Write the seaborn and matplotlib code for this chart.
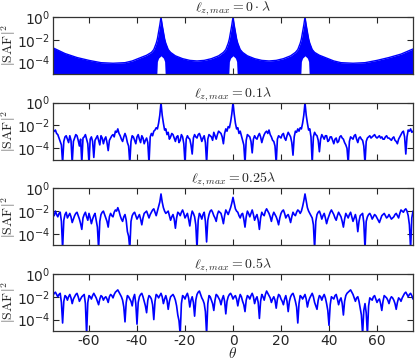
import numpy as np
import pandas as pd
import matplotlib
matplotlib.use('Agg')
import matplotlib.pyplot as plt
import seaborn as sns

# --- data (log10 of |SAF|^2) ---
titles = [r'$\ell_{z,max}=0\cdot\lambda$', r'$\ell_{z,max}=0.1\lambda$',
          r'$\ell_{z,max}=0.25\lambda$', r'$\ell_{z,max}=0.5\lambda$']

# panel 1: dense array factor, drawn as upper envelope / lower edge of the blue band
theta_p1 = [-75, -70, -65, -60, -55, -50, -45, -42, -39, -36, -34, -33, -32, -31.8, -31.5, -31, -30.5,
            -30, -29.5, -29, -28.5, -28.2, -28, -27, -26, -24, -21, -18, -15, -12, -9, -6, -4, -3, -2,
            -1.8, -1.5, -1, -0.5, 0, 0.5, 1, 1.5, 1.8, 2, 3, 4, 6, 9, 12, 15, 18, 21, 24, 26, 27, 28,
            28.2, 28.5, 29, 29.5, 30, 30.5, 31, 31.5, 31.8, 32, 33, 34, 36, 39, 42, 45, 50, 55, 60, 65,
            70, 75]
env_p1 = [-2.7, -3.2, -3.55, -3.8, -4.0, -4.05, -4.0, -3.85, -3.6, -3.35, -3.1, -2.85, -2.3, -2.15, -1.9, -1.3, -0.7,
          0.0, -0.7, -1.3, -1.9, -2.15, -2.3, -2.85, -3.1, -3.4, -3.65, -3.8, -3.85, -3.8, -3.65, -3.4, -3.1, -2.85, -2.3,
          -2.15, -1.9, -1.3, -0.7, 0.0, -0.7, -1.3, -1.9, -2.15, -2.3, -2.85, -3.1, -3.4, -3.65, -3.8, -3.85, -3.8, -3.65, -3.4, -3.1, -2.85, -2.3,
          -2.15, -1.9, -1.3, -0.7, 0.0, -0.7, -1.3, -1.9, -2.15, -2.3, -2.85, -3.1, -3.35, -3.6, -3.85, -4.0, -4.05, -4.0, -3.8, -3.55,
          -3.25, -2.8]
low_p1 = [-5.3, -5.3, -5.3, -5.3, -5.3, -5.3, -5.3, -5.3, -5.3, -5.3, -5.3, -5.3, -5.3, -5.3, -3.9, -3.6, -3.5,
          -3.4, -3.5, -3.6, -3.9, -5.3, -5.3, -5.3, -5.3, -5.3, -5.3, -5.3, -5.3, -5.3, -5.3, -5.3, -5.3, -5.3, -5.3,
          -5.3, -3.9, -3.6, -3.5, -3.4, -3.5, -3.6, -3.9, -5.3, -5.3, -5.3, -5.3, -5.3, -5.3, -5.3, -5.3, -5.3, -5.3, -5.3, -5.3, -5.3, -5.3,
          -5.3, -3.9, -3.6, -3.5, -3.4, -3.5, -3.6, -3.9, -5.3, -5.3, -5.3, -5.3, -5.3, -5.3, -5.3, -5.3, -5.3, -5.3, -5.3, -5.3,
          -5.3, -5.3]

# panels 2-4 sampled every 0.5 deg from -75 to 75
theta = [i * 0.5 for i in range(-150, 151)]

saf_p2 = [-2.6, -2.5, -2.4, -2.7, -2.8, -3.1, -3.4, -3.7, -5.3, -3.4,
          -3.0, -2.9, -3.2, -3.5, -2.9, -3.3, -5.3, -3.4, -3.1, -2.8,
          -2.9, -3.3, -3.8, -3.2, -5.3, -3.1, -3.0, -2.8, -3.2, -3.6,
          -5.3, -3.2, -3.0, -3.4, -4.8, -3.3, -3.1, -2.9, -3.3, -3.7,
          -2.9, -3.1, -3.6, -3.2, -3.0, -3.5, -4.2, -3.3, -3.1, -2.9,
          -2.8, -3.0, -2.5, -2.6, -2.3, -2.7, -2.9, -3.2, -3.4, -3.0,
          -2.7, -3.0, -3.5, -3.8, -5.3, -3.4, -2.9, -3.0, -3.3, -3.6,
          -3.0, -2.8, -3.2, -3.5, -2.9, -3.1, -3.6, -3.3, -3.1, -3.5,
          -5.3, -3.0, -2.7, -2.9, -2.5, -2.4, -2.2, -2.3, -1.8, -1.1,
          0.0, -1.1, -1.8, -2.4, -2.3, -2.8, -2.6, -3.2, -3.0, -2.7,
          -2.8, -3.1, -3.4, -3.0, -2.9, -3.5, -3.3, -2.8, -3.0, -3.6,
          -5.3, -3.2, -2.9, -3.1, -3.2, -3.7, -4.5, -3.1, -2.8, -3.0,
          -3.1, -2.8, -2.7, -3.0, -3.4, -3.1, -2.9, -3.5, -5.3, -3.2,
          -2.8, -2.9, -3.0, -3.3, -2.6, -2.9, -3.2, -2.8, -2.5, -2.6,
          -2.7, -3.0, -3.6, -2.7, -2.3, -2.5, -2.1, -2.2, -1.7, -1.0,
          0.0, -1.0, -1.8, -2.3, -2.2, -2.7, -2.5, -2.9, -3.3, -3.7,
          -5.3, -3.3, -2.8, -2.9, -3.0, -3.4, -4.4, -3.2, -2.9, -3.1,
          -3.2, -2.9, -2.7, -3.0, -3.5, -3.1, -2.8, -2.6, -2.5, -2.7,
          -2.4, -2.8, -3.0, -3.3, -3.4, -3.8, -5.3, -3.2, -2.9, -3.0,
          -3.1, -2.8, -2.7, -3.1, -3.3, -2.9, -2.6, -2.8, -3.0, -3.5,
          -4.6, -3.0, -2.5, -2.6, -2.3, -2.5, -2.2, -2.3, -1.8, -1.1,
          0.0, -1.1, -1.8, -2.4, -2.3, -3.0, -5.3, -3.0, -2.6, -2.8,
          -2.9, -3.3, -4.3, -3.2, -2.8, -3.0, -3.2, -2.9, -2.9, -3.4,
          -3.3, -3.0, -3.0, -3.3, -3.6, -3.2, -3.1, -3.5, -3.4, -3.0,
          -2.9, -3.1, -3.2, -3.5, -3.7, -4.0, -5.3, -3.4, -3.0, -3.1,
          -3.2, -2.9, -2.8, -3.2, -3.5, -3.1, -3.0, -3.2, -3.3, -3.8,
          -5.3, -3.4, -3.1, -3.0, -2.9, -3.1, -3.0, -2.9, -2.8, -3.0,
          -3.1, -3.0, -2.9, -3.1, -3.0, -3.2, -3.2, -3.0, -2.9, -3.1,
          -3.1, -3.2, -3.3, -3.1, -3.0, -3.3, -3.4, -3.6, -3.2, -3.0,
          -2.8, -2.6, -2.5, -3.0, -4.5, -3.0, -2.4, -2.5, -2.3, -2.6,
          -2.5]

saf_p3 = [-2.2, -2.4, -2.0, -2.3, -2.5, -2.2, -2.1, -2.9, -5.3, -2.8,
          -2.3, -2.1, -2.6, -2.4, -2.2, -2.5, -3.0, -2.7, -2.4, -2.2,
          -2.1, -2.4, -2.7, -3.1, -3.6, -2.6, -2.3, -2.1, -2.5, -2.8,
          -2.2, -2.6, -3.1, -2.7, -2.4, -2.2, -2.8, -3.4, -5.3, -2.9,
          -2.3, -2.1, -2.0, -2.3, -2.6, -2.9, -3.4, -2.5, -2.2, -2.4,
          -2.5, -2.1, -1.9, -2.0, -1.7, -2.0, -2.4, -2.7, -2.9, -2.5,
          -2.3, -2.8, -3.8, -4.2, -5.3, -2.9, -2.4, -2.2, -2.1, -2.4,
          -2.7, -2.5, -2.3, -2.7, -3.2, -2.6, -2.2, -2.1, -2.0, -2.3,
          -2.6, -2.3, -2.1, -1.9, -1.8, -2.1, -2.4, -2.0, -1.6, -1.2,
          -0.5, -1.2, -1.7, -2.0, -2.2, -2.1, -2.0, -2.4, -2.8, -2.5,
          -2.3, -2.7, -3.5, -2.6, -2.1, -2.2, -2.4, -2.1, -1.9, -2.2,
          -2.6, -2.4, -2.2, -2.7, -3.3, -2.5, -2.0, -2.2, -2.5, -3.2,
          -5.3, -2.8, -2.2, -2.4, -2.7, -2.3, -2.1, -2.9, -4.7, -2.8,
          -2.3, -2.0, -1.9, -2.1, -2.4, -2.6, -2.9, -2.3, -2.0, -2.1,
          -2.2, -2.6, -3.1, -2.4, -1.9, -2.1, -2.3, -2.0, -1.7, -1.3,
          -0.8, -1.3, -1.8, -2.0, -2.1, -2.4, -2.6, -2.3, -2.2, -2.7,
          -3.4, -2.5, -2.0, -2.2, -2.5, -2.2, -1.9, -2.3, -2.8, -2.5,
          -2.3, -2.8, -3.6, -2.6, -2.1, -2.3, -2.4, -2.0, -1.8, -2.0,
          -2.2, -2.5, -2.9, -2.4, -2.1, -2.3, -2.5, -2.8, -3.2, -2.6,
          -2.2, -2.0, -1.9, -2.2, -2.6, -2.4, -2.3, -2.6, -3.0, -2.5,
          -2.1, -2.3, -2.4, -2.1, -1.9, -2.0, -2.2, -2.0, -1.6, -1.1,
          -0.5, -1.1, -1.7, -2.0, -2.2, -2.4, -2.6, -3.2, -5.3, -2.9,
          -2.3, -2.1, -2.0, -2.3, -2.7, -2.4, -2.2, -2.6, -3.1, -2.7,
          -2.4, -2.1, -1.9, -2.1, -2.3, -2.6, -2.8, -2.4, -2.1, -2.3,
          -2.5, -2.9, -3.4, -2.7, -2.2, -2.4, -2.6, -2.3, -2.1, -2.5,
          -2.9, -2.6, -2.3, -2.8, -3.8, -2.9, -2.4, -2.3, -2.2, -3.0,
          -5.3, -2.9, -2.5, -2.3, -2.2, -2.4, -2.7, -2.5, -2.3, -2.4,
          -2.6, -2.8, -3.0, -2.7, -2.4, -2.3, -2.2, -2.4, -2.6, -2.5,
          -2.3, -2.5, -2.7, -2.6, -2.5, -2.3, -2.2, -2.4, -2.6, -2.2,
          -1.9, -2.0, -2.1, -1.9, -1.8, -2.0, -2.4, -3.2, -5.3, -2.6,
          -2.0]

saf_p4 = [-1.9, -1.7, -1.6, -1.8, -2.0, -1.8, -1.7, -2.5, -4.3, -2.4,
          -1.9, -2.0, -2.3, -2.0, -1.8, -2.1, -2.6, -2.2, -2.0, -1.8,
          -1.7, -2.0, -2.4, -2.2, -2.0, -1.9, -1.8, -2.6, -5.3, -2.5,
          -1.9, -2.0, -2.2, -1.9, -1.7, -1.9, -2.1, -2.4, -2.7, -2.2,
          -1.9, -2.0, -2.3, -2.1, -2.0, -2.2, -2.5, -2.0, -1.8, -1.9,
          -2.1, -1.8, -1.6, -1.5, -1.4, -1.6, -1.8, -2.0, -2.3, -2.9,
          -4.2, -2.5, -1.9, -2.0, -2.2, -2.4, -2.8, -2.1, -1.8, -2.6,
          -4.4, -2.5, -2.0, -1.8, -1.7, -2.0, -2.4, -2.8, -3.4, -2.3,
          -1.9, -2.0, -2.2, -2.7, -4.0, -2.4, -1.8, -1.9, -2.1, -1.9,
          -1.7, -2.0, -2.6, -2.2, -1.9, -2.3, -3.1, -2.4, -2.0, -1.9,
          -1.8, -2.0, -2.3, -2.8, -3.6, -4.1, -5.3, -2.6, -1.9, -2.0,
          -2.2, -1.9, -1.7, -2.1, -2.9, -2.3, -2.0, -2.5, -3.7, -2.3,
          -1.8, -1.6, -1.5, -1.8, -2.1, -2.3, -2.6, -3.3, -5.3, -2.6,
          -1.9, -2.0, -2.3, -2.6, -3.2, -2.3, -1.8, -1.9, -2.1, -2.3,
          -2.7, -2.2, -1.9, -2.4, -3.5, -2.4, -2.0, -1.8, -1.7, -1.9,
          -2.2, -2.0, -1.9, -2.2, -2.8, -2.2, -1.8, -2.0, -2.4, -2.7,
          -3.3, -2.3, -1.9, -2.0, -2.2, -1.9, -1.7, -2.0, -2.6, -2.2,
          -2.0, -2.5, -3.9, -2.4, -1.8, -2.0, -2.3, -1.8, -1.5, -1.7,
          -1.9, -2.1, -2.5, -2.2, -2.0, -2.3, -3.0, -2.2, -1.8, -1.9,
          -2.2, -2.4, -2.7, -2.2, -1.9, -2.4, -3.3, -2.4, -2.0, -1.8,
          -1.7, -2.0, -2.4, -2.9, -4.3, -2.6, -1.9, -2.0, -2.2, -2.0,
          -1.8, -2.2, -2.9, -2.4, -2.1, -1.9, -1.7, -2.0, -2.5, -2.8,
          -3.1, -2.3, -1.9, -2.0, -2.3, -2.0, -1.8, -2.1, -2.6, -3.2,
          -4.5, -2.7, -2.0, -2.1, -2.2, -1.9, -1.8, -2.2, -2.7, -2.3,
          -2.1, -2.6, -3.6, -2.4, -1.9, -1.7, -1.6, -1.5, -1.4, -1.6,
          -1.8, -2.1, -2.4, -2.1, -2.0, -2.4, -3.0, -3.6, -5.3, -3.2,
          -2.6, -3.4, -5.3, -2.8, -2.1, -2.2, -2.3, -2.0, -1.9, -2.2,
          -2.5, -2.3, -2.2, -2.6, -3.2, -2.4, -1.9, -2.0, -2.1, -2.3,
          -2.6, -2.2, -2.0, -2.1, -2.3, -2.6, -3.1, -2.5, -2.1, -2.2,
          -2.4, -2.1, -1.9, -1.7, -1.6, -1.8, -2.0, -1.8, -1.7, -1.9,
          -2.2]

xticks = [-60, -40, -20, 0, 20, 40, 60]
yticks = [1e0, 1e-2, 1e-4]

# --- style ---
sns.set_style('ticks', {'xtick.direction': 'in', 'ytick.direction': 'in'})
plt.rcParams['font.family'] = ['DejaVu Sans']
plt.rcParams['axes.unicode_minus'] = False
blue = '#0000ff'

fig, axes = plt.subplots(4, 1, figsize=(4.15, 3.63), dpi=100, sharex=True)
fig.subplots_adjust(left=53 / 415, right=413 / 415, top=1 - 17 / 363, bottom=1 - 331 / 363, hspace=0.5)

# panel 1
df1 = pd.DataFrame({'theta': theta_p1, 'env': 10 ** np.array(env_p1), 'low': 10 ** np.array(low_p1)})
ax = axes[0]
ax.fill_between(df1['theta'], df1['low'], df1['env'], color=blue, linewidth=0)
sns.lineplot(data=df1, x='theta', y='env', ax=ax, color=blue, linewidth=1.0, sort=False)

# panels 2-4
for ax, vals in zip(axes[1:], [saf_p2, saf_p3, saf_p4]):
    df = pd.DataFrame({'theta': theta, 'saf': 10 ** np.array(vals)})
    sns.lineplot(data=df, x='theta', y='saf', ax=ax, color=blue, linewidth=1.2)

for ax, title in zip(axes, titles):
    ax.set_yscale('log')
    ax.set_ylim(1e-5, 1)
    ax.set_xlim(-75, 75)
    ax.set_yticks(yticks)
    ax.set_xticks(xticks)
    ax.tick_params(which='both', top=True, right=True, direction='in', labelsize=10, pad=2)
    ax.tick_params(which='major', length=4)
    ax.tick_params(which='minor', length=2)
    ax.set_title(title, fontsize=10, pad=0.5, math_fontfamily='cm')
    ax.set_ylabel(r'$|\mathrm{SAF}|^2$', fontsize=10, math_fontfamily='cm')
    ax.yaxis.set_label_coords(-0.098, 0.5)
    ax.set_xlabel('')
    for sp in ax.spines.values():
        sp.set_color('#333333')
        sp.set_linewidth(0.9)

axes[-1].set_xlabel(r'$\theta$', fontsize=11, math_fontfamily='cm', labelpad=-1)

fig.savefig('out.png', dpi=100)
